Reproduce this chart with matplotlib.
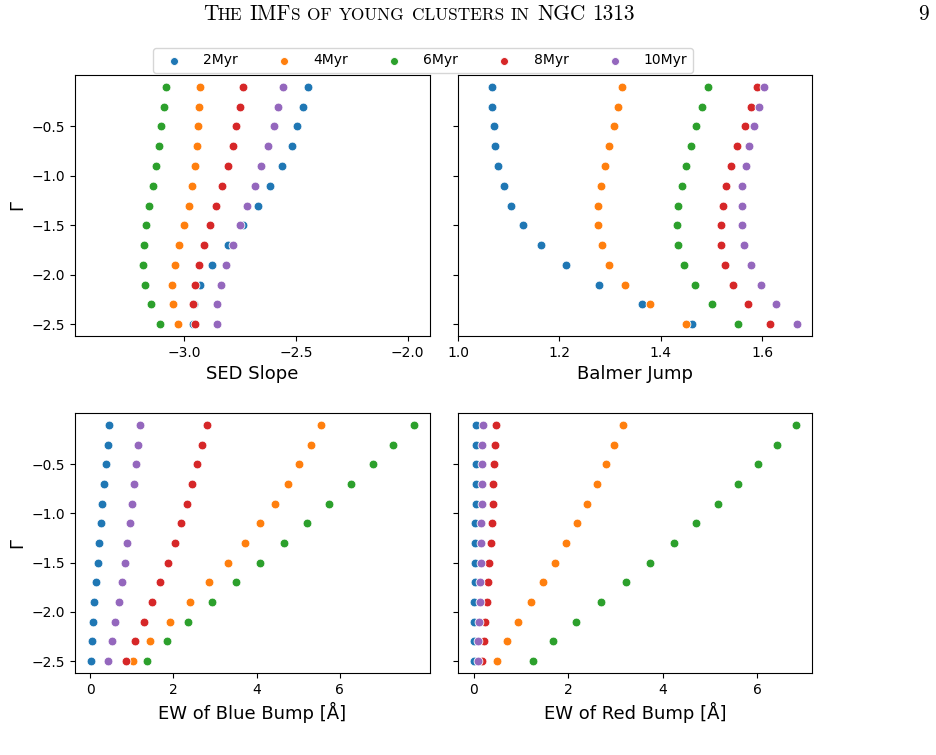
import matplotlib
matplotlib.use("Agg")
import matplotlib.pyplot as plt

# IMF slope (Gamma) for every row of dots
gamma = [-0.1, -0.3, -0.5, -0.7, -0.9, -1.1, -1.3, -1.5, -1.7, -1.9, -2.1, -2.3, -2.5]
ages = ["2Myr", "4Myr", "6Myr", "8Myr", "10Myr"]
colors = ["#1f77b4", "#ff7f0e", "#2ca02c", "#d62728", "#9467bd"]

sed_slope = {
    "2Myr": [-2.448, -2.467, -2.494, -2.519, -2.561, -2.615, -2.672, -2.737, -2.804, -2.876, -2.930, -2.958, -2.963],
    "4Myr": [-2.930, -2.936, -2.940, -2.945, -2.952, -2.964, -2.979, -3.000, -3.022, -3.040, -3.055, -3.052, -3.030],
    "6Myr": [-3.084, -3.093, -3.104, -3.116, -3.128, -3.142, -3.158, -3.170, -3.181, -3.185, -3.176, -3.151, -3.109],
    "8Myr": [-2.736, -2.752, -2.770, -2.784, -2.806, -2.830, -2.858, -2.884, -2.910, -2.936, -2.954, -2.961, -2.954],
    "10Myr": [-2.558, -2.579, -2.600, -2.627, -2.655, -2.682, -2.718, -2.749, -2.781, -2.812, -2.837, -2.854, -2.852],
}

balmer_jump = {
    "2Myr": [1.068, 1.068, 1.070, 1.072, 1.078, 1.091, 1.105, 1.129, 1.163, 1.212, 1.279, 1.362, 1.462],
    "4Myr": [1.324, 1.316, 1.307, 1.297, 1.289, 1.281, 1.277, 1.277, 1.283, 1.298, 1.330, 1.378, 1.450],
    "6Myr": [1.493, 1.481, 1.470, 1.460, 1.449, 1.441, 1.433, 1.431, 1.433, 1.445, 1.467, 1.500, 1.553],
    "8Myr": [1.590, 1.577, 1.565, 1.550, 1.538, 1.529, 1.522, 1.518, 1.519, 1.527, 1.543, 1.572, 1.615],
    "10Myr": [1.604, 1.593, 1.583, 1.574, 1.567, 1.560, 1.559, 1.559, 1.563, 1.577, 1.597, 1.628, 1.668],
}

ew_blue = {
    "2Myr": [0.456, 0.424, 0.384, 0.336, 0.296, 0.256, 0.216, 0.184, 0.136, 0.104, 0.064, 0.040, 0.024],
    "4Myr": [5.552, 5.296, 5.024, 4.744, 4.432, 4.088, 3.712, 3.312, 2.864, 2.400, 1.912, 1.440, 1.032],
    "6Myr": [7.776, 7.272, 6.784, 6.272, 5.744, 5.200, 4.648, 4.080, 3.496, 2.920, 2.360, 1.840, 1.376],
    "8Myr": [2.800, 2.688, 2.576, 2.456, 2.320, 2.184, 2.032, 1.864, 1.688, 1.496, 1.296, 1.088, 0.872],
    "10Myr": [1.192, 1.152, 1.112, 1.064, 1.008, 0.960, 0.896, 0.840, 0.760, 0.688, 0.608, 0.520, 0.440],
}

ew_red = {
    "2Myr": [0.056, 0.049, 0.049, 0.042, 0.042, 0.035, 0.028, 0.028, 0.021, 0.014, 0.014, 0.007, 0.007],
    "4Myr": [3.157, 2.975, 2.792, 2.602, 2.398, 2.180, 1.955, 1.716, 1.463, 1.203, 0.942, 0.696, 0.485],
    "6Myr": [6.821, 6.428, 6.020, 5.605, 5.169, 4.705, 4.233, 3.727, 3.221, 2.700, 2.173, 1.681, 1.252],
    "8Myr": [0.471, 0.457, 0.436, 0.415, 0.401, 0.380, 0.359, 0.331, 0.309, 0.281, 0.246, 0.211, 0.183],
    "10Myr": [0.190, 0.183, 0.176, 0.169, 0.169, 0.162, 0.155, 0.148, 0.134, 0.127, 0.113, 0.098, 0.091],
}

panels = [
    (sed_slope, "SED Slope"),
    (balmer_jump, "Balmer Jump"),
    (ew_blue, "EW of Blue Bump [Å]"),
    (ew_red, "EW of Red Bump [Å]"),
]

W, H = 936, 755
fig = plt.figure(figsize=(W / 100, H / 100), dpi=100)

# axes boxes in pixels: left, top, right, bottom
boxes = [(75, 75, 430, 336), (458, 75, 812, 336), (75, 413, 430, 673), (458, 413, 812, 673)]
axes = []
for i, (l, t, r, b) in enumerate(boxes):
    share = axes[0] if i else None
    ax = fig.add_axes([l / W, 1 - b / H, (r - l) / W, (b - t) / H], sharey=share)
    axes.append(ax)

for ax, (data, label) in zip(axes, panels):
    for age, c in zip(ages, colors):
        ax.scatter(data[age], gamma, s=40, color=c, edgecolors="white", linewidths=0.6, label=age)
    ax.set_xlabel(label, fontsize=13)

axes[0].set_yticks([-0.5, -1.0, -1.5, -2.0, -2.5])
axes[0].set_xlim(-3.49, -1.90)
axes[0].set_xticks([-3.0, -2.5, -2.0])
axes[1].set_xlim(left=1.0)
axes[1].set_xticks([1.0, 1.2, 1.4, 1.6])
axes[2].set_xticks([0, 2, 4, 6])
axes[3].set_xticks([0, 2, 4, 6])
for ax in (axes[0], axes[2]):
    ax.set_ylabel("Γ", fontsize=13)
for ax in (axes[1], axes[3]):
    ax.tick_params(labelleft=False)

handles, labels = axes[0].get_legend_handles_labels()
fig.legend(handles, labels, loc="lower left", ncol=5, mode="expand", borderaxespad=0,
           bbox_to_anchor=(153 / W, 1 - 73 / H, 540 / W, 26 / H), fontsize=10,
           markerscale=0.9, handlelength=2.2, handletextpad=1.0)

# running page header in small caps
renderer = fig.canvas.get_renderer()
parts = [("T", 1), ("HE", 0), (" ", 0), ("IMF", 1), ("S", 0), (" ", 0), ("OF", 0), (" ", 0),
         ("YOUNG", 0), (" ", 0), ("CLUSTERS", 0), (" ", 0), ("IN", 0), (" ", 0),
         ("NGC", 1), (" ", 0), ("1313", 1)]
x = 203
base = H - 20
for s, big in parts:
    if s == " ":
        x += 7.5
        continue
    t = fig.text(x / W, base / H, s, fontsize=15.4 if big else 12.4, family="cmr10", va="baseline")
    x = t.get_window_extent(renderer).x1 - 0.5
fig.text(929 / W, base / H, "9", fontsize=15.4, family="cmr10", va="baseline", ha="right")

fig.savefig("out.png", dpi=100)
